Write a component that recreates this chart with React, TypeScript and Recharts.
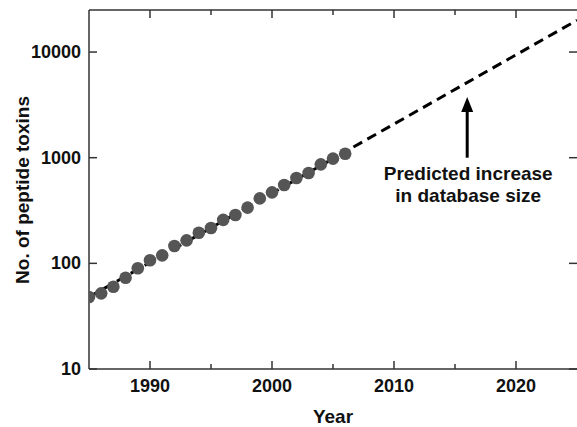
import React from 'react';
import { ComposedChart, Line, Scatter, XAxis, YAxis, ReferenceLine } from 'recharts';

// observed database size per year
const YEARS = [1985, 1986, 1987, 1988, 1989, 1990, 1991, 1992, 1993, 1994, 1995, 1996, 1997, 1998, 1999, 2000, 2001, 2002, 2003, 2004, 2005, 2006];
const TOXINS = [48, 52, 60, 73, 90, 107, 119, 146, 165, 195, 216, 258, 287, 337, 412, 470, 551, 642, 716, 865, 980, 1091];

// fitted exponential trend (end points)
const TREND_YEARS = [1985, 2025];
const TREND_VALUES = [48, 20000];

const X_TICKS = [1990, 1995, 2000, 2005, 2010, 2015, 2020];
const Y_TICKS = [10, 100, 1000, 10000];
const Y_MAX = 25000;

const ARROW_YEAR = 2016;
const ARROW_FROM = 1000;
const ARROW_TO = 3750;
const NOTE = ['Predicted increase', 'in database size'];

const FONT = 'Arial, "Liberation Sans", sans-serif';
const AXIS = '#333';
const DOT = '#555';
const PLOT_H = 359;
const PLOT_W = 488;

const points = YEARS.map((year, i) => ({ year, value: TOXINS[i] }));
const trend = TREND_YEARS.map((year, i) => ({ year, value: TREND_VALUES[i] }));

const isMajor = (v: number) => v % 10 === 0;

// bottom ticks point inward; mirrored ticks along the top border
const BottomTick = ({ x, y, payload }: any) => {
  const len = isMajor(payload.value) ? 8 : 5;
  return (
    <g>
      <line x1={x} x2={x} y1={y} y2={y - len} stroke={AXIS} strokeWidth={1.5} />
      <line x1={x} x2={x} y1={y - PLOT_H} y2={y - PLOT_H + len} stroke={AXIS} strokeWidth={1.5} />
      {isMajor(payload.value) && (
        <text x={x} y={y + 23} textAnchor="middle" fontSize={18} fontWeight="bold" fontFamily={FONT} fill="#111">
          {payload.value}
        </text>
      )}
    </g>
  );
};

const LeftTick = ({ x, y, payload }: any) => (
  <g>
    <line x1={x} x2={x + 8} y1={y} y2={y} stroke={AXIS} strokeWidth={1.5} />
    <line x1={x + PLOT_W} x2={x + PLOT_W - 8} y1={y} y2={y} stroke={AXIS} strokeWidth={1.5} />
    <text x={x - 8} y={y + 6} textAnchor="end" fontSize={18} fontWeight="bold" fontFamily={FONT} fill="#111">
      {payload.value}
    </text>
  </g>
);

const Arrow = (props: any) => {
  const { x1, y1, y2 } = props;
  const bottom = Math.max(y1, y2);
  const tip = Math.min(y1, y2);
  const x = x1;
  return (
    <g>
      <line x1={x} x2={x} y1={bottom} y2={tip + 12} stroke="#000" strokeWidth={3} />
      <polygon points={`${x - 6},${tip + 15} ${x + 6},${tip + 15} ${x},${tip}`} fill="#000" />
      {NOTE.map((t, i) => (
        <text key={i} x={x + 1} y={bottom + 22 + i * 22} textAnchor="middle" fontSize={19} fontWeight="bold" fontFamily={FONT} fill="#111">
          {t}
        </text>
      ))}
    </g>
  );
};

export default function App() {
  return (
    <div style={{ position: 'absolute', left: 0, top: 0, width: 577, height: 427, background: '#fff' }}>
      <ComposedChart width={577} height={427} margin={{ top: 10, right: 0, bottom: 0, left: 0 }}>
        <XAxis
          dataKey="year"
          type="number"
          domain={[1985, 2025]}
          ticks={X_TICKS}
          allowDataOverflow
          height={58}
          tickSize={0}
          tickMargin={0}
          tick={<BottomTick />}
          axisLine={{ stroke: AXIS, strokeWidth: 1.5 }}
          tickLine={false}
          label={{ value: 'Year', position: 'insideBottom', offset: 4, fontSize: 19, fontWeight: 'bold', fontFamily: FONT, fill: '#111' }}
        />
        <YAxis
          type="number"
          scale="log"
          domain={[10, Y_MAX]}
          ticks={Y_TICKS}
          allowDataOverflow
          width={89}
          tickSize={0}
          tickMargin={0}
          tick={<LeftTick />}
          axisLine={{ stroke: AXIS, strokeWidth: 1.5 }}
          tickLine={false}
          label={{
            content: () => (
              <text x={29} y={190} transform="rotate(-90 29 190)" textAnchor="middle" fontSize={19} fontWeight="bold" fontFamily={FONT} fill="#111">
                No. of peptide toxins
              </text>
            ),
          }}
        />
        <ReferenceLine y={Y_MAX} stroke={AXIS} strokeWidth={1.5} ifOverflow="visible" />
        <Line
          data={trend}
          dataKey="value"
          type="linear"
          stroke="#000"
          strokeWidth={3}
          strokeDasharray="10 6"
          dot={false}
          activeDot={false}
          isAnimationActive={false}
        />
        <Scatter
          data={points}
          dataKey="value"
          fill={DOT}
          shape={(p: any) => <circle cx={p.cx} cy={p.cy} r={6.3} fill={DOT} />}
          isAnimationActive={false}
        />
        <ReferenceLine
          segment={[{ x: ARROW_YEAR, y: ARROW_FROM }, { x: ARROW_YEAR, y: ARROW_TO }]}
          shape={<Arrow />}
          ifOverflow="visible"
        />
      </ComposedChart>
    </div>
  );
}
